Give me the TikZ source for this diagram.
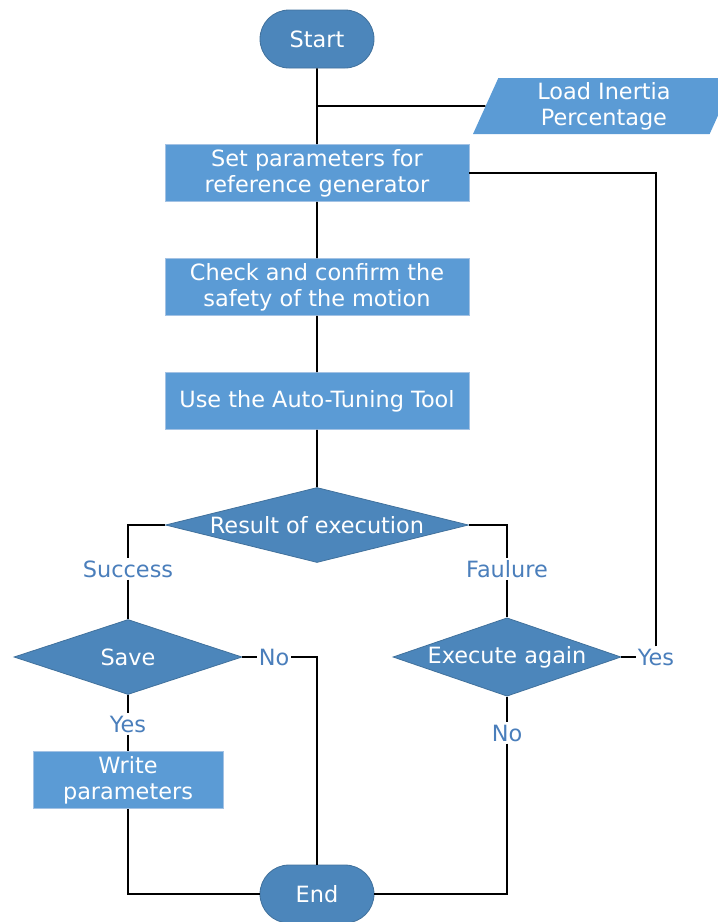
\documentclass[tikz,border=0pt]{standalone}
\usepackage{fontspec}
\setmainfont{DejaVu Sans}
\usetikzlibrary{shapes.geometric}
\definecolor{boxblue}{HTML}{5B9BD5}
\definecolor{boxline}{HTML}{A3C2E4}
\definecolor{darkblue}{HTML}{4C86BB}
\definecolor{darkline}{HTML}{41719C}
\definecolor{labelblue}{HTML}{4A7EBB}
\tikzset{
    procbox/.style={rectangle, fill=boxblue, draw=boxline, line width=0.6pt,
        text=white, align=center, inner sep=0pt},
    termbox/.style={rounded rectangle, fill=darkblue, draw=darkline, line width=0.8pt,
        text=white, minimum width=114, minimum height=58, inner sep=0pt},
    decbox/.style={diamond, fill=darkblue, draw=darkline, line width=0.8pt,
        text=white, inner sep=0pt, shape aspect=4, minimum height=75},
    iobox/.style={trapezium, trapezium left angle=62, trapezium right angle=118,
        trapezium stretches body, fill=boxblue, text=white, align=center,
        minimum height=56, minimum width=262, inner sep=0pt},
    lab/.style={text=labelblue, inner sep=2pt},
    wire/.style={draw=black, line width=1.6pt}
}
\usetikzlibrary{shapes.misc}
\begin{document}
\begin{tikzpicture}[x=1pt, y=-1pt, font=\fontsize{22.4}{26}\selectfont]
        \useasboundingbox (0,0) rectangle (718,922);

        % 开始与输入
        \node[termbox] (start) at (317,39) {Start};
        \node[iobox] (inertia) at (604,106) {Load Inertia\\Percentage};
        \coordinate (tap) at (317,106);

        % 主流程
        \node[procbox, minimum width=304, minimum height=57] (setref) at (317,173) {Set parameters for\\reference generator};
        \node[procbox, minimum width=304, minimum height=57] (check) at (317,287) {Check and confirm the\\safety of the motion};
        \node[procbox, minimum width=304, minimum height=57] (tool) at (317,401) {Use the Auto-Tuning Tool};
        \node[decbox, minimum width=303] (result) at (317,525) {Result of execution};

        % 分支
        \node[lab] (success) at (128,569) {Success};
        \node[lab] (failure) at (507,569) {Faulure};
        \node[decbox, minimum width=228] (save) at (128,657) {Save};
        \node[decbox, minimum width=228, shape aspect=2.8] (again) at (507,657) {Execute again};
        \node[lab] (saveno) at (274,657) {No};
        \node[lab] (saveyes) at (128,724) {Yes};
        \node[lab] (againyes) at (656,657) {Yes};
        \node[lab] (againno) at (507,733) {No};
        \node[procbox, minimum width=190, minimum height=57] (write) at (128,780) {Write\\parameters};
        \node[termbox] (finish) at (317,894) {End};

        % 连线
        \draw[wire] (start) -- (setref) -- (check) -- (tool) -- (result);
        \draw[wire] (tap) -- (inertia.west);
        \draw[wire] (result.west) -| (success);
        \draw[wire] (success) -- (save);
        \draw[wire] (result.east) -| (failure);
        \draw[wire] (failure) -- (again);
        \draw[wire] (save.east) -- (saveno);
        \draw[wire] (saveno) -| (finish);
        \draw[wire] (save) -- (saveyes) -- (write);
        \draw[wire] (write) |- (finish);
        \draw[wire] (again.east) -- (againyes);
        \draw[wire] (againyes) |- (setref.east);
        \draw[wire] (again) -- (againno);
        \draw[wire] (againno) |- (finish);

    \end{tikzpicture}
\end{document}
